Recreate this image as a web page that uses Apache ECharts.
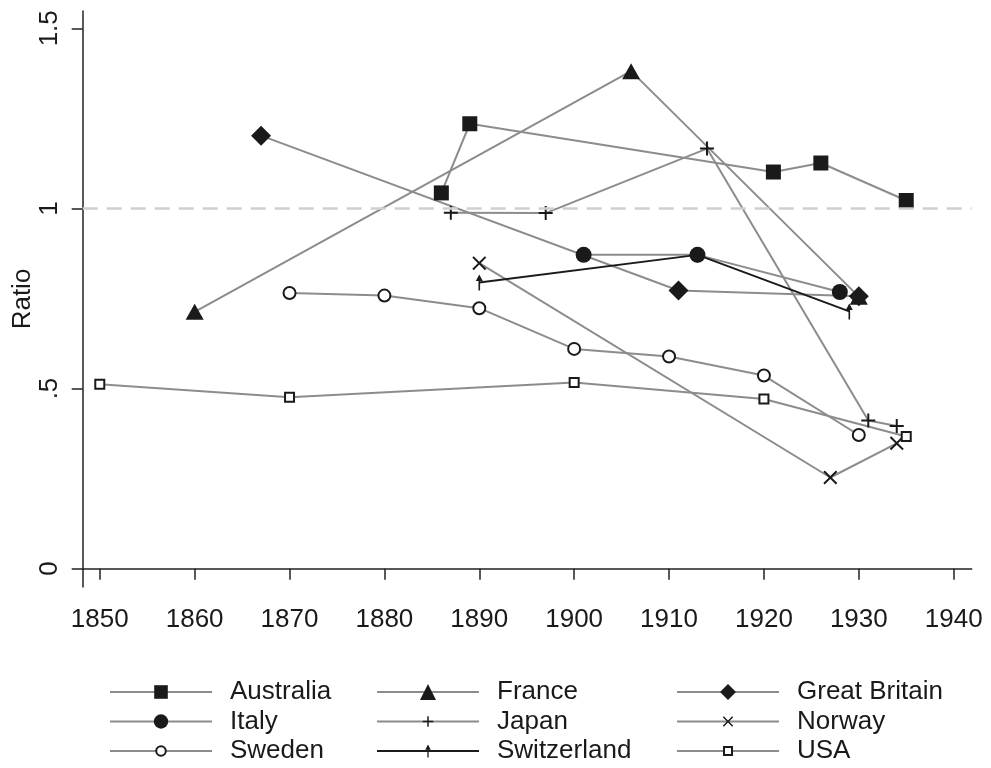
<!DOCTYPE html>
<html>
<head>
<meta charset="utf-8">
<script src="https://cdn.jsdelivr.net/npm/echarts@6/dist/echarts.min.js"></script>
<style>
html,body{margin:0;padding:0;background:#fff;}
#c{width:991px;height:768px;}
</style>
</head>
<body>
<div id="c"></div>
<script>
// ---- data ----
const xTicks = [1850, 1860, 1870, 1880, 1890, 1900, 1910, 1920, 1930, 1940];
const yTicks = [0, 0.5, 1, 1.5];
const refValue = 1;

const auYears = [1886, 1889, 1921, 1926, 1935];
const auVals  = [1.043, 1.235, 1.101, 1.126, 1.022];
const frYears = [1860, 1906, 1930];
const frVals  = [0.713, 1.381, 0.755];
const gbYears = [1867, 1911, 1930];
const gbVals  = [1.202, 0.772, 0.756];
const itYears = [1901, 1913, 1928];
const itVals  = [0.871, 0.871, 0.768];
const jpYears = [1887, 1897, 1914, 1931, 1934];
const jpVals  = [0.988, 0.987, 1.166, 0.411, 0.396];
const noYears = [1890, 1927, 1934];
const noVals  = [0.848, 0.253, 0.348];
const seYears = [1870, 1880, 1890, 1900, 1910, 1920, 1930];
const seVals  = [0.765, 0.758, 0.723, 0.610, 0.589, 0.536, 0.371];
const chYears = [1890, 1913, 1929];
const chVals  = [0.794, 0.871, 0.714];
const usYears = [1850, 1870, 1900, 1920, 1935];
const usVals  = [0.512, 0.476, 0.517, 0.471, 0.367];

// ---- styling ----
const FONT = '"Liberation Sans", Arial, Helvetica, sans-serif';
const TXT = '#1a1a1a';
const GRAY = '#8c8c8c';
const MK = '#1a1a1a';

const PLUS = 'path://M-1,-7 L1,-7 L1,-1 L7,-1 L7,1 L1,1 L1,7 L-1,7 L-1,1 L-7,1 L-7,-1 L-1,-1 Z';
const CROSS = 'path://M-7,-5.6 L-5.6,-7 L0,-1.4 L5.6,-7 L7,-5.6 L1.4,0 L7,5.6 L5.6,7 L0,1.4 L-5.6,7 L-7,5.6 L-1.4,0 Z';
const ARROW = 'path://M-8,-8 M0,-8 L3.5,-1.5 L0.8,-1.5 L0.8,8 L-0.8,8 L-0.8,-1.5 L-3.5,-1.5 Z M8,8 L8,8';

function pts(ys, vs) { return ys.map((y, i) => [y, vs[i]]); }

function mk(name, ys, vs, symbol, size, o) {
  o = o || {};
  return {
    name: name,
    type: 'line',
    data: pts(ys, vs),
    symbol: symbol,
    symbolSize: size,
    showAllSymbol: true,
    clip: false,
    animation: false,
    lineStyle: { color: o.line || GRAY, width: 2 },
    itemStyle: o.empty
      ? { color: MK, borderColor: MK, borderWidth: 2 }
      : { color: MK, borderWidth: 0 },
    emphasis: { disabled: true },
    z: 3
  };
}

const series = [
  {
    name: 'ref', type: 'line', data: [], z: 1, silent: true, animation: false,
    markLine: {
      silent: true, symbol: 'none', animation: false,
      label: { show: false },
      lineStyle: { color: '#cfcfcf', width: 2.5, type: [15, 9] },
      data: [{ yAxis: refValue }]
    }
  },
  mk('Australia', auYears, auVals, 'rect', 15),
  mk('France', frYears, frVals, 'triangle', [18, 16]),
  mk('Great Britain', gbYears, gbVals, 'diamond', 20),
  mk('Italy', itYears, itVals, 'circle', 16),
  mk('Japan', jpYears, jpVals, PLUS, 14),
  mk('Norway', noYears, noVals, CROSS, 14),
  mk('Sweden', seYears, seVals, 'emptyCircle', 12, { empty: true }),
  mk('Switzerland', chYears, chVals, ARROW, 16, { line: '#1a1a1a' }),
  mk('USA', usYears, usVals, 'emptyRect', 9, { empty: true })
];

// legend layout: 3 columns x 3 rows
const legendNames = ['Australia', 'France', 'Great Britain', 'Italy', 'Japan', 'Norway', 'Sweden', 'Switzerland', 'USA'];
const legendIconH = [17, 20, 20, 18, 13, 13, 12, 16, 10];
const colLeft = [109, 376, 676];
const rowCenter = [692, 721.5, 751];
const LH = 30;
const legends = legendNames.map((n, i) => ({
  data: [n],
  left: colLeft[i % 3],
  top: rowCenter[Math.floor(i / 3)] - LH / 2,
  orient: 'horizontal',
  padding: 0,
  itemWidth: 102,
  itemHeight: legendIconH[i],
  selectedMode: false,
  textStyle: { fontFamily: FONT, fontSize: 26, color: TXT, lineHeight: LH, padding: [0, 0, 0, 13] }
}));

const option = {
  backgroundColor: '#fff',
  animation: false,
  grid: { left: 82.7, right: 19.3, top: 11, bottom: 181, containLabel: false, outerBoundsMode: 'none' },
  xAxis: {
    type: 'value',
    min: 1848.2,
    max: 1941.9,
    splitLine: { show: false },
    axisLine: { show: true, lineStyle: { color: '#222', width: 1.5 } },
    axisTick: { show: true, length: 11, customValues: xTicks, lineStyle: { color: '#222', width: 1.5 } },
    axisLabel: {
      customValues: xTicks, margin: 20, fontFamily: FONT, fontSize: 26, color: TXT,
      formatter: v => String(v)
    }
  },
  yAxis: {
    type: 'value',
    min: -0.051,
    max: 1.548,
    name: 'Ratio',
    nameLocation: 'middle',
    nameGap: 47,
    nameMoveOverlap: false,
    nameRotate: 90,
    nameTextStyle: { fontFamily: FONT, fontSize: 26, color: TXT },
    splitLine: { show: false },
    axisLine: { show: true, lineStyle: { color: '#222', width: 1.5 } },
    axisTick: { show: true, length: 11, customValues: yTicks, lineStyle: { color: '#222', width: 1.5 } },
    axisLabel: {
      customValues: yTicks, rotate: 90, margin: 20,
      fontFamily: FONT, fontSize: 26, color: TXT,
      formatter: v => String(v).replace(/^0\./, '.')
    }
  },
  legend: legends,
  series: series
};

const chart = echarts.init(document.getElementById('c'), null, { renderer: 'canvas' });
chart.setOption(option);
</script>
</body>
</html>
